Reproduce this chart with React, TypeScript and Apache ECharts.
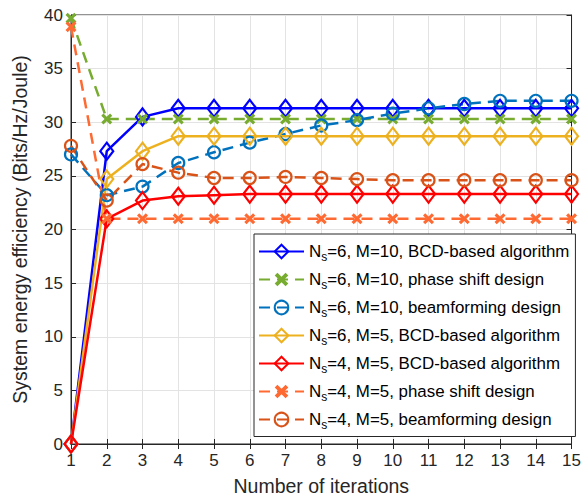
import React, { useEffect, useRef } from "react";
import * as echarts from "echarts";

const iterations = [1, 2, 3, 4, 5, 6, 7, 8, 9, 10, 11, 12, 13, 14, 15];
const seriesNames = [
  "Ns=6, M=10, BCD-based algorithm",
  "Ns=6, M=10, phase shift design",
  "Ns=6, M=10, beamforming design",
  "Ns=6, M=5, BCD-based algorithm",
  "Ns=4, M=5, BCD-based algorithm",
  "Ns=4, M=5, phase shift design",
  "Ns=4, M=5, beamforming design",
];
const bcd6m10 = [0, 27.3, 30.5, 31.3, 31.3, 31.3, 31.3, 31.3, 31.3, 31.3, 31.3, 31.3, 31.3, 31.3, 31.3];
const ps6m10 = [39.7, 30.3, 30.3, 30.3, 30.3, 30.3, 30.3, 30.3, 30.3, 30.3, 30.3, 30.3, 30.3, 30.3, 30.3];
const bf6m10 = [27.0, 23.2, 24.0, 26.2, 27.2, 28.1, 28.9, 29.7, 30.2, 30.8, 31.3, 31.7, 32.0, 32.0, 32.0];
const bcd6m5 = [0, 24.7, 27.3, 28.7, 28.7, 28.7, 28.7, 28.7, 28.7, 28.7, 28.7, 28.7, 28.7, 28.7, 28.7];
const bcd4m5 = [0, 21.0, 22.7, 23.1, 23.2, 23.3, 23.3, 23.3, 23.3, 23.3, 23.3, 23.3, 23.3, 23.3, 23.3];
const ps4m5 = [38.9, 21.0, 21.0, 21.0, 21.0, 21.0, 21.0, 21.0, 21.0, 21.0, 21.0, 21.0, 21.0, 21.0, 21.0];
const bf4m5 = [27.8, 22.7, 26.1, 25.3, 24.8, 24.8, 24.9, 24.8, 24.7, 24.6, 24.6, 24.6, 24.6, 24.6, 24.6];
const yTicks = [0, 5, 10, 15, 20, 25, 30, 35, 40];

const X_SYMBOL =
  "path://M2,0 L5,3 L8,0 L10,2 L7,5 L10,8 L8,10 L5,7 L2,10 L0,8 L3,5 L0,2 Z";

export default function App() {
  const ref = useRef<HTMLDivElement>(null);
  useEffect(() => {
    if (!ref.current) return;
    const chart = echarts.init(ref.current, undefined, { renderer: "svg" });
    const font = "'Liberation Sans', Arial, sans-serif";
    const axisColor = "#262626";
    const dash = [11, 7];
    const mk = (
      name: string,
      data: number[],
      color: string,
      kind: "bcd" | "ps" | "bf"
    ) => {
      const base: any = {
        name,
        type: "line",
        data: iterations.map((x, i) => [x, data[i]]),
        showSymbol: true,
        lineStyle: { color, width: 2.5, type: kind === "bcd" ? "solid" : dash },
        itemStyle: { color, borderColor: color, borderWidth: 2 },
      };
      if (kind === "bcd") {
        base.symbol = "diamond";
        base.symbolSize = [13, 17];
        base.itemStyle = { color: "rgba(0,0,0,0)", borderColor: color, borderWidth: 2.2 };
      } else if (kind === "ps") {
        base.symbol = X_SYMBOL;
        base.symbolSize = 11;
        base.itemStyle = { color, borderWidth: 0 };
      } else {
        base.symbol = "circle";
        base.symbolSize = 12;
        base.itemStyle = { color: "rgba(0,0,0,0)", borderColor: color, borderWidth: 2.2 };
      }
      return base;
    };
    const option: any = {
      animation: false,
      backgroundColor: "#fff",
      textStyle: { fontFamily: font },
      grid: { left: 71, right: 12, top: 15, bottom: 53, show: true, borderColor: axisColor, borderWidth: 1 },
      xAxis: [
        {
          type: "value",
          min: 1,
          max: 15,
          interval: 1,
          name: "Number of iterations",
          nameLocation: "middle",
          nameGap: 32,
          nameTextStyle: { fontSize: 19.5, color: axisColor, fontFamily: font },
          axisLine: { show: true, lineStyle: { color: axisColor } },
          axisTick: { show: true, inside: true, length: 5, lineStyle: { color: axisColor } },
          axisLabel: { fontSize: 17, color: axisColor, fontFamily: font, margin: 8 },
          splitLine: { show: true, lineStyle: { color: "#e3e3e3", width: 1 } },
        },
        {
          type: "value",
          position: "top",
          min: 1,
          max: 15,
          interval: 1,
          axisLine: { show: true, lineStyle: { color: axisColor } },
          axisTick: { show: true, inside: true, length: 5, lineStyle: { color: axisColor } },
          axisLabel: { show: false },
          splitLine: { show: false },
        },
      ],
      yAxis: [
        {
          type: "value",
          min: 0,
          max: 40,
          interval: 5,
          name: "System energy efficiency (Bits/Hz/Joule)",
          nameLocation: "middle",
          nameGap: 41,
          nameTextStyle: { fontSize: 19.5, color: axisColor, fontFamily: font },
          axisLine: { show: true, lineStyle: { color: axisColor } },
          axisTick: { show: true, inside: true, length: 5, lineStyle: { color: axisColor } },
          axisLabel: {
            fontSize: 17,
            color: axisColor,
            fontFamily: font,
            margin: 8,
            formatter: (v: number) => (yTicks.includes(v) ? String(v) : ""),
          },
          splitLine: { show: true, lineStyle: { color: "#e3e3e3", width: 1 } },
        },
        {
          type: "value",
          position: "right",
          min: 0,
          max: 40,
          interval: 5,
          axisLine: { show: true, lineStyle: { color: axisColor } },
          axisTick: { show: true, inside: true, length: 5, lineStyle: { color: axisColor } },
          axisLabel: { show: false },
          splitLine: { show: false },
        },
      ],
      legend: {
        orient: "vertical",
        left: 254,
        top: 234,
        data: seriesNames,
        itemWidth: 45,
        itemHeight: 17,
        itemGap: 8.5,
        padding: [9, 6, 6, 4],
        backgroundColor: "#fff",
        borderColor: axisColor,
        borderWidth: 1,
        borderRadius: 0,
        formatter: (name: string) => name.replace("Ns", "N{sub|s}"),
        textStyle: {
          fontSize: 16.9,
          color: "#000",
          fontFamily: font,
          rich: {
            sub: { fontSize: 12, color: "#000", fontFamily: font, padding: [10, 0, 0, 0] },
          },
        },
      },
      series: [
        mk(seriesNames[0], bcd6m10, "#0000FF", "bcd"),
        mk(seriesNames[1], ps6m10, "#77AC30", "ps"),
        mk(seriesNames[2], bf6m10, "#0072BD", "bf"),
        mk(seriesNames[3], bcd6m5, "#EDB120", "bcd"),
        mk(seriesNames[4], bcd4m5, "#FF0000", "bcd"),
        mk(seriesNames[5], ps4m5, "#FF6A33", "ps"),
        mk(seriesNames[6], bf4m5, "#D95319", "bf"),
      ],
    };
    chart.setOption(option);
    return () => chart.dispose();
  }, []);
  return <div ref={ref} style={{ width: 584, height: 501, position: "absolute", left: 0, top: 0 }} />;
}
